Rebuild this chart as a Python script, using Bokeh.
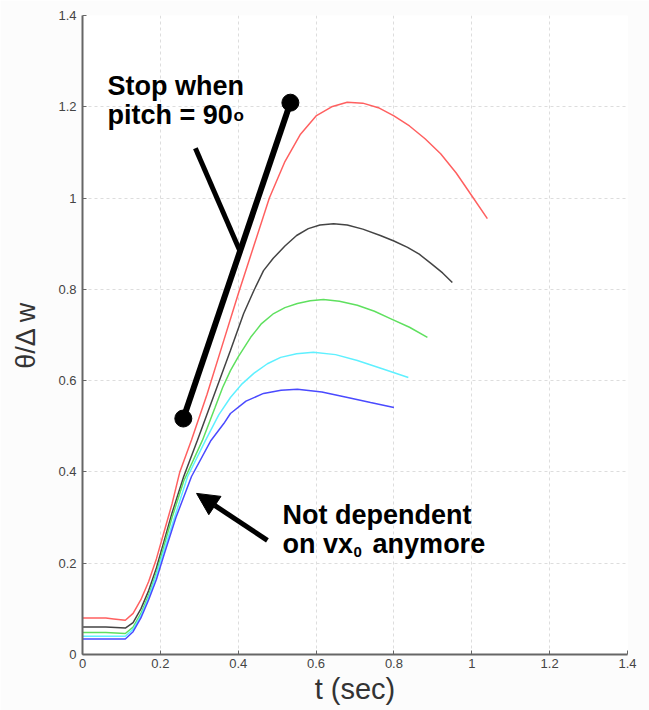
from bokeh.plotting import figure
from bokeh.models import FixedTicker, Arrow, NormalHead, Range1d
from bokeh.core.properties import value
from bokeh.embed import file_html
from bokeh.resources import INLINE

# ---- data ----
t_red = [0, 0.06, 0.08, 0.11, 0.13, 0.15, 0.17, 0.19, 0.21, 0.23, 0.25, 0.28, 0.32, 0.36, 0.40,
         0.44, 0.48, 0.52, 0.56, 0.60, 0.64, 0.68, 0.72, 0.76, 0.80, 0.84, 0.88, 0.92, 0.96,
         1.00, 1.04]
y_red = [0.080, 0.080, 0.078, 0.075, 0.09, 0.12, 0.16, 0.21, 0.27, 0.33, 0.40, 0.47, 0.57, 0.68,
         0.79, 0.895, 1.00, 1.08, 1.14, 1.18, 1.20, 1.21, 1.208, 1.198, 1.18, 1.158, 1.13,
         1.097, 1.055, 1.005, 0.955]

t_black = [0, 0.06, 0.11, 0.13, 0.15, 0.17, 0.19, 0.21, 0.23, 0.26, 0.295, 0.33, 0.38, 0.414,
           0.44, 0.465, 0.49, 0.52, 0.55, 0.58, 0.61, 0.645, 0.68, 0.72, 0.765, 0.80, 0.835,
           0.865, 0.895, 0.925, 0.95]
y_black = [0.060, 0.060, 0.058, 0.07, 0.10, 0.14, 0.19, 0.25, 0.31, 0.39, 0.469, 0.55, 0.666,
           0.747, 0.797, 0.841, 0.868, 0.895, 0.918, 0.933, 0.941, 0.944, 0.941, 0.932, 0.918,
           0.906, 0.892, 0.877, 0.857, 0.836, 0.815]

t_green = [0, 0.06, 0.11, 0.13, 0.15, 0.17, 0.19, 0.21, 0.23, 0.26, 0.308, 0.34, 0.36, 0.38,
           0.40, 0.432, 0.46, 0.491, 0.52, 0.552, 0.585, 0.619, 0.66, 0.706, 0.75, 0.791,
           0.84, 0.886]
y_green = [0.048, 0.048, 0.046, 0.06, 0.09, 0.13, 0.18, 0.24, 0.30, 0.38, 0.469, 0.54, 0.585,
           0.622, 0.652, 0.695, 0.725, 0.747, 0.76, 0.769, 0.775, 0.778, 0.774, 0.765, 0.752,
           0.736, 0.717, 0.695]

t_cyan = [0, 0.06, 0.11, 0.13, 0.15, 0.17, 0.19, 0.21, 0.24, 0.27, 0.316, 0.35, 0.38, 0.41,
          0.44, 0.475, 0.509, 0.55, 0.593, 0.65, 0.706, 0.77, 0.837]
y_cyan = [0.040, 0.040, 0.040, 0.055, 0.085, 0.125, 0.175, 0.23, 0.31, 0.39, 0.469, 0.525,
          0.563, 0.593, 0.616, 0.637, 0.651, 0.659, 0.662, 0.657, 0.644, 0.626, 0.607]

t_blue = [0, 0.06, 0.11, 0.13, 0.15, 0.17, 0.19, 0.21, 0.24, 0.28, 0.33, 0.363, 0.38, 0.42,
          0.465, 0.51, 0.552, 0.615, 0.681, 0.74, 0.80]
y_blue = [0.034, 0.034, 0.034, 0.05, 0.08, 0.12, 0.165, 0.22, 0.30, 0.39, 0.469, 0.506, 0.528,
          0.555, 0.572, 0.579, 0.581, 0.575, 0.563, 0.552, 0.541]

tick_values = [0, 0.2, 0.4, 0.6, 0.8, 1.0, 1.2, 1.4]
tick_labels = ["0", "0.2", "0.4", "0.6", "0.8", "1", "1.2", "1.4"]

# stop marker (pitch = 90 deg) and annotation arrows
stop_t = [0.259, 0.534]
stop_y = [0.517, 1.209]
pointer_t = [0.290, 0.406]
pointer_y = [1.109, 0.881]
arrow_tail = (0.475, 0.250)
arrow_tip = (0.293, 0.353)

FONT = "Liberation Sans"

p = figure(width=649, height=710, output_backend="svg", toolbar_location=None,
           x_range=Range1d(0, 1.4), y_range=Range1d(0, 1.4),
           min_border_left=82, min_border_right=22, min_border_top=15, min_border_bottom=56)
p.outline_line_color = None
p.background_fill_color = "white"
p.border_fill_color = "#fcfcfc"

for ax in (p.xaxis[0], p.yaxis[0]):
    ax.ticker = FixedTicker(ticks=tick_values)
    ax.major_label_overrides = {v: l for v, l in zip(tick_values, tick_labels)}
    ax.minor_tick_line_color = None
    ax.major_tick_in = 4
    ax.major_tick_out = 0
    ax.axis_line_color = "#666666"
    ax.axis_line_width = 2
    ax.major_tick_line_color = "#666666"
    ax.major_label_text_font = FONT
    ax.major_label_text_font_size = "13px"
    ax.major_label_text_color = "#444444"
    ax.axis_label_text_font = FONT
    ax.axis_label_text_font_style = "normal"
    ax.axis_label_text_color = "#333333"

p.xaxis.axis_label = "t (sec)"
p.xaxis.axis_label_text_font_size = "29px"
p.xaxis.axis_label_standoff = 2
p.xaxis.major_label_standoff = 4
p.yaxis.axis_label = "θ/Δ w"
p.yaxis.axis_label_text_font_size = "27px"
p.yaxis.axis_label_standoff = 14
p.yaxis.major_label_standoff = 6

for g in (p.xgrid[0], p.ygrid[0]):
    g.ticker = FixedTicker(ticks=tick_values)
    g.grid_line_color = "#dddddd"
    g.grid_line_dash = "3 3"
    g.grid_line_width = 1

p.line(t_red, y_red, line_color="#ff6060", line_width=1.5)
p.line(t_black, y_black, line_color="#444444", line_width=1.5)
p.line(t_green, y_green, line_color="#5fe05f", line_width=1.5)
p.line(t_cyan, y_cyan, line_color="#5ff0ff", line_width=1.5)
p.line(t_blue, y_blue, line_color="#4a4aff", line_width=1.5)

# thick stop line with end dots
p.line(stop_t, stop_y, line_color="black", line_width=6)
p.scatter(stop_t, stop_y, size=17, fill_color="black", line_color="black")
p.line(pointer_t, pointer_y, line_color="black", line_width=5)

p.add_layout(Arrow(end=NormalHead(size=22, fill_color="black", line_color="black"),
                   x_start=arrow_tail[0], y_start=arrow_tail[1],
                   x_end=arrow_tip[0], y_end=arrow_tip[1],
                   line_width=5, line_color="black"))

# texts
bold = dict(text_font=value(FONT), text_font_style="bold", text_color="black",
            text_baseline="alphabetic", text_align="left")
p.text(x=[0.064], y=[1.245], text=["Stop when"], text_font_size="27px", **bold)
p.text(x=[0.064], y=[1.181], text=["pitch = 90"], text_font_size="27px", **bold)
p.text(x=[0.064], y=[1.181], text=["o"], text_font_size="17px", x_offset=126, **bold)

p.text(x=[0.514], y=[0.305], text=["Not dependent"], text_font_size="27px", **bold)
p.text(x=[0.514], y=[0.243], text=["on vx"], text_font_size="27px", **bold)
p.text(x=[0.514], y=[0.243], text=["0"], text_font_size="15px", x_offset=71, y_offset=8, **bold)
p.text(x=[0.514], y=[0.243], text=["anymore"], text_font_size="27px", x_offset=90, **bold)

open("out.html", "w").write(file_html(p, INLINE))
